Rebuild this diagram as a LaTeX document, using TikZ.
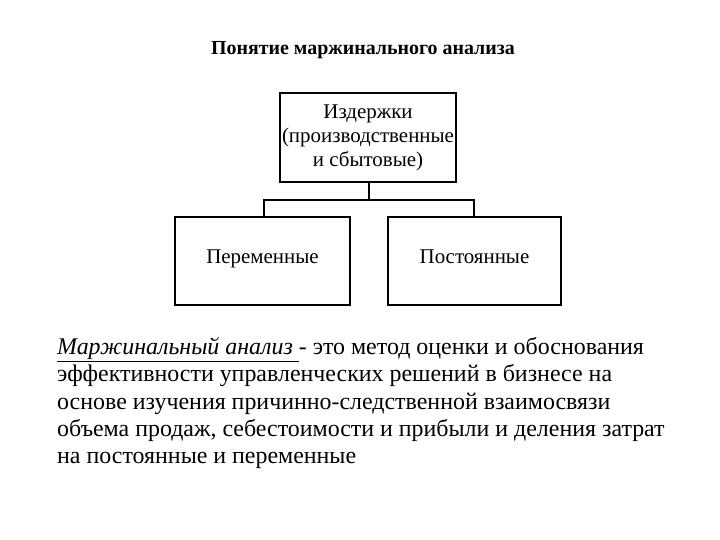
\documentclass[tikz,border=0pt]{standalone}
\usepackage{fontspec}
\setmainfont{Liberation Serif}
\begin{document}
\begin{tikzpicture}[x=1bp,y=-1bp,
  box/.style={draw,line width=1.6bp,inner sep=0pt,align=center,font=\fontsize{21}{24}\selectfont},
  conn/.style={line width=1.6bp}]
\useasboundingbox (0,0) rectangle (720,540);
\node[font=\bfseries\fontsize{20}{22}\selectfont] (title) at (363,50) {Понятие маржинального анализа};
\node[box,minimum width=176bp,minimum height=89bp] (top) at (368,137.5) {Издержки\\(производственные\\и сбытовые)};
\node[box,minimum width=175bp,minimum height=88bp,text height=0.7em,text depth=0.2em] (left) at (262.5,261) {Переменные};
\node[box,minimum width=173bp,minimum height=88bp,text height=0.7em,text depth=0.2em] (right) at (474.5,261) {Постоянные};
\coordinate (mid) at (369,200);
\draw[conn] (top.south -| mid) -- (mid);
\draw[conn] (left.north -| 264,0) |- (mid) -| (right.north -| 474,0);
\node[anchor=north west,align=left,inner sep=0pt,font=\fontsize{24}{27.5}\selectfont] (para) at (57,337)
{\underline{\textit{Маржинальный анализ}\ }- это метод оценки и обоснования\\
эффективности управленческих решений в бизнесе на\\
основе изучения причинно-следственной взаимосвязи\\
объема продаж, себестоимости и прибыли и деления затрат\\
на постоянные и переменные};
\end{tikzpicture}
\end{document}
